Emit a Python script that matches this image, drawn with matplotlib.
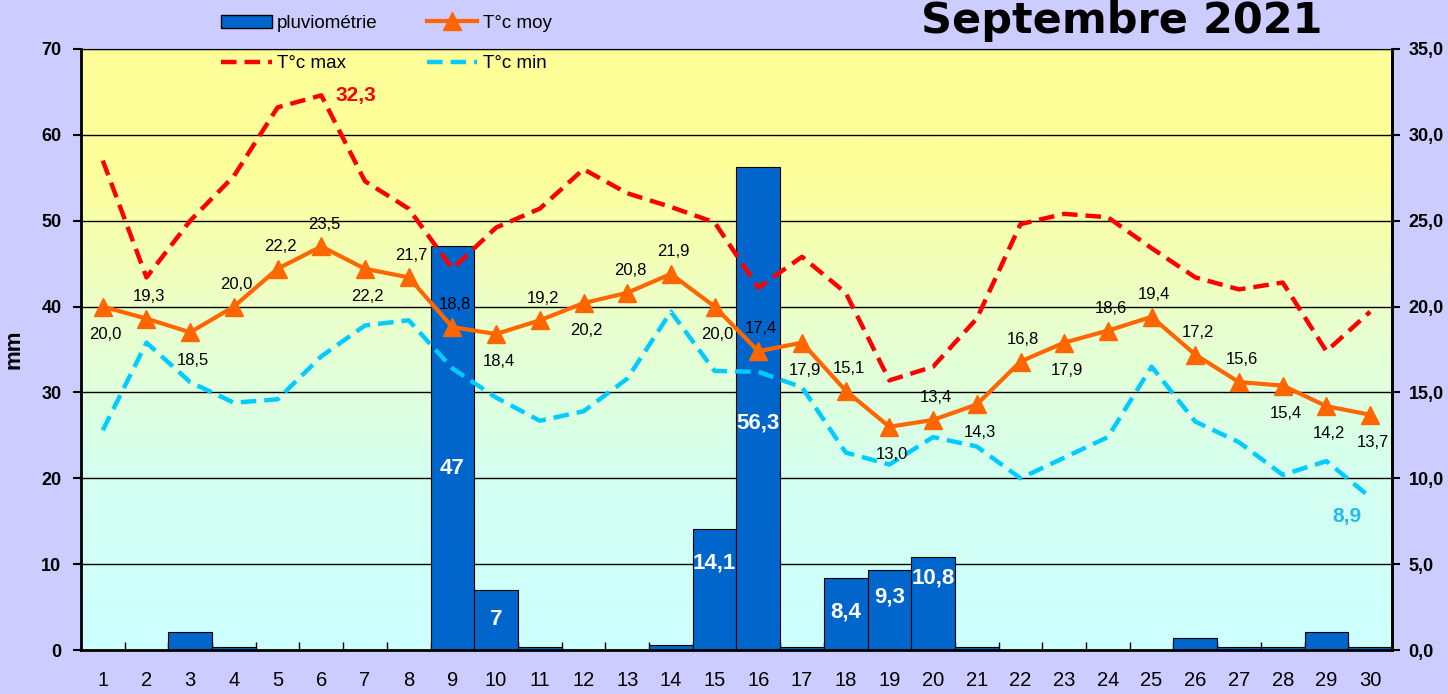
import matplotlib.pyplot as plt
import numpy as np
from matplotlib.colors import LinearSegmentedColormap
from matplotlib.patches import Patch
from matplotlib.lines import Line2D

plt.rcParams['font.family'] = ['Liberation Sans', 'DejaVu Sans']

jours = list(range(1, 31))
pluie = [0, 0, 2.1, 0.4, 0, 0, 0, 0, 47, 7, 0.3, 0, 0, 0.6, 14.1, 56.3, 0.3, 8.4, 9.3, 10.8,
         0.3, 0, 0, 0, 0, 1.4, 0.3, 0.3, 2.1, 0.3]
t_moy = [20.0, 19.3, 18.5, 20.0, 22.2, 23.5, 22.2, 21.7, 18.8, 18.4, 19.2, 20.2, 20.8, 21.9, 20.0,
         17.4, 17.9, 15.1, 13.0, 13.4, 14.3, 16.8, 17.9, 18.6, 19.4, 17.2, 15.6, 15.4, 14.2, 13.7]
t_max = [28.5, 21.7, 25.0, 27.6, 31.6, 32.3, 27.3, 25.7, 22.2, 24.6, 25.7, 28.0, 26.6, 25.8, 24.9,
         21.1, 22.9, 20.8, 15.7, 16.5, 19.3, 24.8, 25.4, 25.2, 23.4, 21.7, 21.0, 21.4, 17.4, 19.7]
t_min = [12.8, 17.9, 15.6, 14.4, 14.6, 17.1, 18.9, 19.2, 16.4, 14.7, 13.35, 13.9, 15.8, 19.7, 16.25,
         16.2, 15.3, 11.5, 10.8, 12.4, 11.85, 10.0, 11.2, 12.4, 16.5, 13.3, 12.1, 10.2, 11.0, 8.9]

# placement des etiquettes T moy : 1 = dessus, -1 = dessous
pos_moy = [-1, 1, -1, 1, 1, 1, -1, 1, 1, -1, 1, -1, 1, 1, -1,
           1, -1, 1, -1, 1, -1, 1, -1, 1, 1, 1, 1, -1, -1, -1]
# hauteur des etiquettes de pluie (fraction de la barre)
frac_lab = {9: 0.45, 10: 0.5, 15: 0.72, 16: 0.47, 18: 0.52, 19: 0.67, 20: 0.78}

def fmt(v):
    return ('%.1f' % v).replace('.', ',')

fig = plt.figure(figsize=(14.48, 6.94), dpi=100, facecolor='#CCCCFF')
ax = fig.add_axes([0.0559, 0.0634, 0.9054, 0.866])

cmap = LinearSegmentedColormap.from_list('fond', [(0, '#CCFFFF'), (0.3, '#D4FFEE'), (0.55, '#EAFFCC'),
                                                  (0.8, '#FFFF99'), (1, '#FFFF99')])
grad = np.linspace(0, 1, 256).reshape(-1, 1)
ax.imshow(grad, extent=[0.5, 30.5, 0, 70], origin='lower', aspect='auto', cmap=cmap, zorder=0)

ax.bar(jours, pluie, width=1.0, color='#0066CC', edgecolor='black', linewidth=0.8, zorder=2)
for j, v in zip(jours, pluie):
    if v >= 7:
        txt = ('%g' % v).replace('.', ',')
        ax.text(j, v * frac_lab[j], txt, color='white', fontsize=16, fontweight='bold',
                ha='center', va='center', zorder=3)

ax.set_xlim(0.5, 30.5)
ax.set_ylim(0, 70)
ax.set_yticks(range(0, 71, 10))
ax.yaxis.grid(True, color='black', linewidth=1)
ax.set_axisbelow(True)
ax.set_xticks(jours)
ax.set_xticks(np.arange(1.5, 30.5, 1), minor=True)
ax.tick_params(axis='x', which='major', length=0, labelsize=14.5, pad=15)
ax.tick_params(axis='x', which='minor', length=6, direction='in', width=1)
ax.tick_params(axis='y', labelsize=13, width=1.5, length=6, pad=8)
for lab in ax.get_yticklabels():
    lab.set_fontweight('bold')
ax.set_ylabel('mm', fontsize=16, fontweight='bold', labelpad=12)
for s in ['left', 'right', 'bottom']:
    ax.spines[s].set_linewidth(2)
ax.spines['top'].set_color('#888888')

ax2 = ax.twinx()
ax2.set_ylim(0, 35)
ax2.set_yticks(range(0, 36, 5))
ax2.set_yticklabels([fmt(v) for v in range(0, 36, 5)], fontsize=13, fontweight='bold')
ax2.tick_params(axis='y', width=1.5, length=6, pad=6)
ax2.spines['right'].set_linewidth(2)

tiret = (0, (3.5, 1.8))
ax2.plot(jours, t_max, color='#FF0000', linestyle=tiret, linewidth=3.2)
ax2.plot(jours, t_min, color='#00CCFF', linestyle=tiret, linewidth=3.2)
ax2.plot(jours, t_moy, color='#FF6600', linewidth=3, marker='^', markersize=13)

for j, v, p in zip(jours, t_moy, pos_moy):
    dy = 16 if p > 0 else -20
    ax2.annotate(fmt(v), (j, v), xytext=(2, dy), textcoords='offset points',
                 ha='center', va='center', fontsize=12)

imax = int(np.argmax(t_max))
ax2.annotate(fmt(t_max[imax]), (jours[imax], t_max[imax]), xytext=(10, 0), textcoords='offset points',
             ha='left', va='center', fontsize=15, fontweight='bold', color='#FF0000')
imin = int(np.argmin(t_min))
ax2.annotate(fmt(t_min[imin]), (jours[imin], t_min[imin]), xytext=(-17, -14), textcoords='offset points',
             ha='center', va='center', fontsize=15, fontweight='bold', color='#22BBEE')

handles = [Patch(facecolor='#0066CC', edgecolor='black'),
           Line2D([], [], color='#FF0000', linestyle=tiret, linewidth=3.2),
           Line2D([], [], color='#FF6600', linewidth=3, marker='^', markersize=13),
           Line2D([], [], color='#00CCFF', linestyle=tiret, linewidth=3.2)]
labels = ['pluviométrie', 'T°c max', 'T°c moy', 'T°c min']
fig.legend(handles, labels, ncol=2, loc='upper left', bbox_to_anchor=(0.141, 1.003), frameon=False,
           fontsize=13.5, handlelength=2.7, columnspacing=2.6, labelspacing=1.25, handletextpad=0.3)

fig.text(0.775, 0.952, 'Septembre 2021', fontsize=31, fontweight='bold', ha='center', va='baseline',
         family=['DejaVu Sans'])

fig.savefig('out.png', dpi=100, facecolor=fig.get_facecolor())
